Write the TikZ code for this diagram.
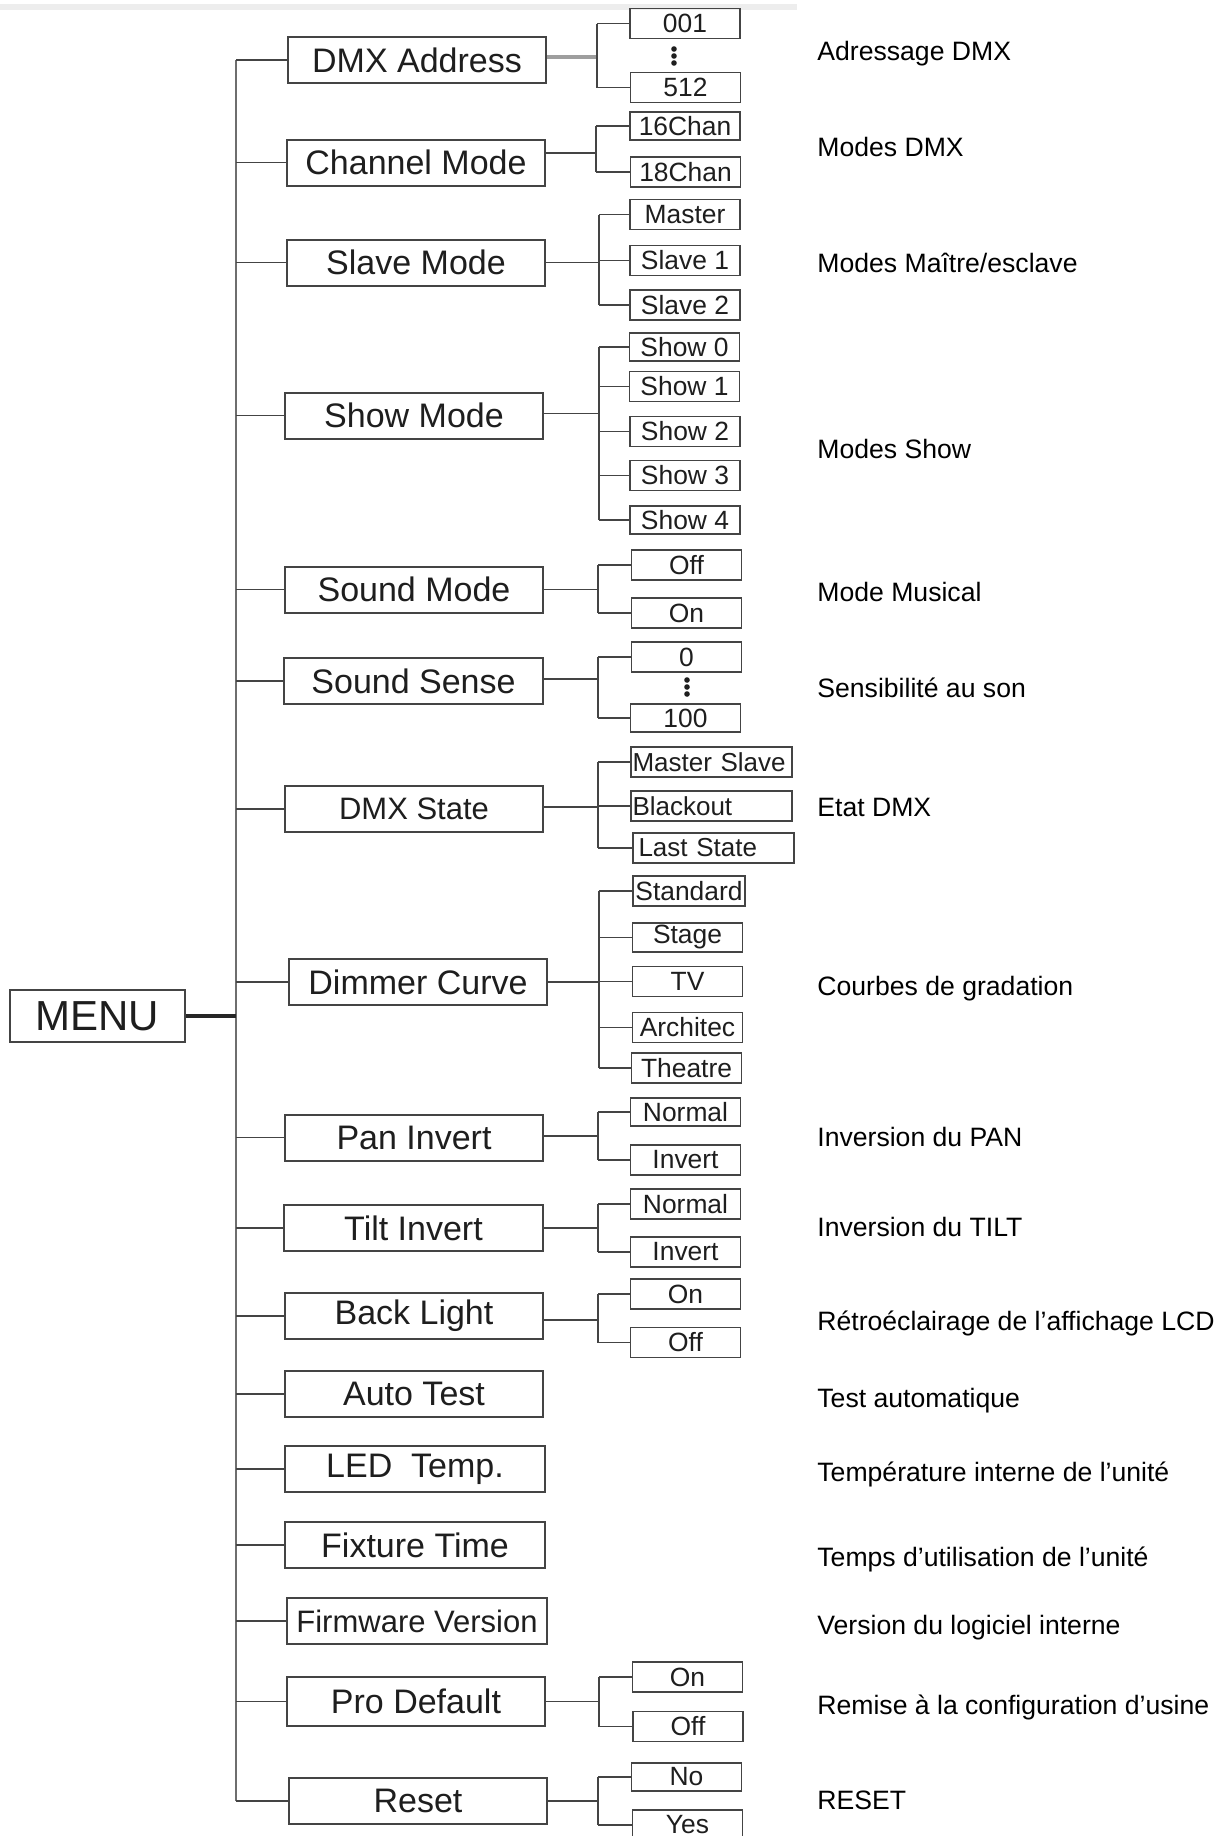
\documentclass[tikz,border=0pt]{standalone}
\usepackage{fontspec}
\setmainfont{Liberation Sans}
\definecolor{ln}{HTML}{444444}
\definecolor{tx}{HTML}{1E1E1E}
\definecolor{tk}{HTML}{6E6E6E}
\begin{document}
\begin{tikzpicture}[x=0.5pt,y=-0.5pt,
  mainbox/.style={draw=ln, line width=1pt, minimum width=129pt, minimum height=23pt, inner sep=0pt, text=tx, font=\fontsize{17}{20}\selectfont},
  subbox/.style={draw=ln, line width=0.9pt, minimum width=55pt, minimum height=15pt, inner sep=0pt, text=tx, font=\fontsize{13.2}{15}\selectfont},
  leftbox/.style={subbox, align=left, text width=79pt, inner xsep=0.75pt, font=\fontsize{13}{15}\selectfont},
  wire/.style={draw=ln, line width=0.9pt},
  trunkline/.style={draw=tk, line width=1pt},
  note/.style={anchor=base west, inner sep=0pt, text=black, font=\fontsize{13.3}{16}\selectfont},
  vdot/.style={circle, fill=tx, inner sep=0pt, minimum size=2.8pt}
]
\useasboundingbox (0,0) rectangle (1226,1836);
\fill[white] (0,0) rectangle (1226,1836);
\fill[black!7] (0,4) rectangle (797,10);

% MENU
\node[draw=ln, line width=1pt, minimum width=87.5pt, minimum height=26pt, inner sep=0pt, text=tx, font=\fontsize{21}{24}\selectfont] (menu) at (97.5,1016) {MENU};
\coordinate (tk) at (236,0);

% main boxes
\node[mainbox] (dmx) at (417,60) {DMX Address};
\node[mainbox] (chan) at (416,162.5) {Channel Mode};
\node[mainbox] (slave) at (416,262.5) {Slave Mode};
\node[mainbox] (show) at (414,415.5) {Show Mode};
\node[mainbox] (sound) at (414,589.5) {Sound Mode};
\node[mainbox, minimum width=129.5pt] (sense) at (413.5,681) {Sound Sense};
\node[mainbox, font=\fontsize{15.5}{18}\selectfont] (state) at (414,809) {DMX State};
\node[mainbox] (dim) at (418,982) {Dimmer Curve};
\node[mainbox] (pan) at (414,1137.5) {Pan Invert};
\node[mainbox, minimum width=129.5pt] (tilt) at (413.5,1228) {Tilt Invert};
\node[mainbox] (back) at (414,1316) {Back Light};
\node[mainbox] (auto) at (414,1394) {Auto Test};
\node[mainbox, minimum width=130pt] (led) at (415,1469) {LED~~Temp.};
\node[mainbox, minimum width=130pt] (fix) at (415,1545) {Fixture Time};
\node[mainbox, minimum width=130pt, font=\fontsize{15.5}{18}\selectfont] (firm) at (417,1621) {Firmware Version};
\node[mainbox, minimum height=24.5pt] (pro) at (416,1701.5) {Pro Default};
\node[mainbox] (reset) at (418,1801) {Reset};

% trunk and branches
\draw[trunkline] (dmx.west -| tk) -- (reset.west -| tk);
\foreach \m in {dmx,chan,slave,show,sound,sense,state,dim,pan,tilt,back,auto,led,fix,firm,pro,reset}
  \draw[wire] (\m.west) -- (\m.west -| tk);
\draw[line width=2pt, black!85] (menu.east) -- (menu.east -| tk);

% DMX Address
\node[subbox] (d001) at (685,23.5) {001};
\node[subbox] (d512) at (685.5,87.5) {512};
\node[vdot] (dda) at (674,49) {};
\node[vdot] (ddb) at (674,56) {};
\node[vdot] (ddc) at (674,63) {};
\coordinate (vA) at (597,0);
\draw[line width=1.6pt, black!38] ([yshift=1.5pt]dmx.east) -- ([yshift=1.5pt]dmx.east -| vA);
\draw[wire] (d001.west -| vA) -- (d512.west -| vA);
\foreach \s in {d001,d512} \draw[wire] (\s.west) -- (\s.west -| vA);

% Channel Mode
\node[subbox, minimum height=14pt] (c16) at (685,126) {16Chan};
\node[subbox] (c18) at (685.5,172) {18Chan};
\coordinate (vB) at (596,0);
\draw[wire] ([yshift=4.75pt]chan.east) -- ([yshift=4.75pt]chan.east -| vB);
\draw[wire] (c16.west -| vB) -- (c18.west -| vB);
\foreach \s in {c16,c18} \draw[wire] (\s.west) -- (\s.west -| vB);

% Slave Mode
\node[subbox] (smA) at (685,214.5) {Master};
\node[subbox] (smB) at (685,260.5) {Slave 1};
\node[subbox] (smC) at (685,305) {Slave 2};
\coordinate (vC) at (599,0);
\draw[wire] (slave.east) -- (slave.east -| vC);
\draw[wire] (smA.west -| vC) -- (smC.west -| vC);
\foreach \s in {smA,smB,smC} \draw[wire] (\s.west) -- (\s.west -| vC);

% Show Mode
\node[subbox, minimum height=14pt] (sh0) at (684.5,347) {Show 0};
\node[subbox] (sh1) at (684.5,386.5) {Show 1};
\node[subbox] (sh2) at (685,431.5) {Show 2};
\node[subbox] (sh3) at (685,475.5) {Show 3};
\node[subbox, minimum height=14pt] (sh4) at (685,520) {Show 4};
\coordinate (vD) at (599,0);
\draw[wire] ([yshift=1pt]show.east) -- ([yshift=1pt]show.east -| vD);
\draw[wire] (sh0.west -| vD) -- (sh4.west -| vD);
\foreach \s in {sh0,sh1,sh2,sh3,sh4} \draw[wire] (\s.west) -- (\s.west -| vD);

% Sound Mode
\node[subbox] (soOff) at (686.5,565) {Off};
\node[subbox] (soOn) at (686.5,613) {On};
\coordinate (vE) at (598,0);
\draw[wire] (sound.east) -- (sound.east -| vE);
\draw[wire] (soOff.west -| vE) -- (soOn.west -| vE);
\foreach \s in {soOff,soOn} \draw[wire] (\s.west) -- (\s.west -| vE);

% Sound Sense
\node[subbox] (se0) at (686.5,657) {0};
\node[subbox, minimum height=14pt] (se100) at (685.5,718) {100};
\node[vdot] (sda) at (687,680) {};
\node[vdot] (sdb) at (687,687) {};
\node[vdot] (sdc) at (687,694) {};
\coordinate (vF) at (598,0);
\draw[wire] ([yshift=1pt]sense.east) -- ([yshift=1pt]sense.east -| vF);
\draw[wire] (se0.west -| vF) -- (se100.west -| vF);
\foreach \s in {se0,se100} \draw[wire] (\s.west) -- (\s.west -| vF);

% DMX State
\node[leftbox] (stA) at (711.5,762) {Master Slave};
\node[leftbox] (stB) at (711.5,806) {Blackout};
\node[leftbox] (stC) at (713.5,848) {\hspace{2pt}Last State};
\coordinate (vG) at (598,0);
\draw[wire] ([yshift=1pt]state.east) -- ([yshift=1pt]state.east -| vG);
\draw[wire] (stA.west -| vG) -- (stC.west -| vG);
\foreach \s in {stA,stB,stC} \draw[wire] (\s.west) -- (\s.west -| vG);

% Dimmer Curve
\node[subbox, minimum width=56pt] (dcA) at (689,891) {Standard};
\node[subbox, minimum height=14.5pt] (dcB) at (687.5,937.5) {Stage};
\node[subbox] (dcC) at (687.5,981.5) {TV};
\node[subbox] (dcD) at (687.5,1027.5) {Architec};
\node[subbox] (dcE) at (686.5,1068) {Theatre};
\coordinate (vH) at (599,0);
\draw[wire] (dim.east) -- (dim.east -| vH);
\draw[wire] (dcA.west -| vH) -- (dcE.west -| vH);
\foreach \s in {dcA,dcB,dcC,dcD,dcE} \draw[wire] (\s.west) -- (\s.west -| vH);

% Pan Invert
\node[subbox, minimum height=14pt] (paA) at (685.5,1112) {Normal};
\node[subbox] (paB) at (685.5,1160) {Invert};
\coordinate (vI) at (598,0);
\draw[wire] ([yshift=0.75pt]pan.east) -- ([yshift=0.75pt]pan.east -| vI);
\draw[wire] (paA.west -| vI) -- (paB.west -| vI);
\foreach \s in {paA,paB} \draw[wire] (\s.west) -- (\s.west -| vI);

% Tilt Invert
\node[subbox] (tiA) at (685.5,1204) {Normal};
\node[subbox] (tiB) at (685.5,1252) {Invert};
\coordinate (vJ) at (598,0);
\draw[wire] (tilt.east) -- (tilt.east -| vJ);
\draw[wire] (tiA.west -| vJ) -- (tiB.west -| vJ);
\foreach \s in {tiA,tiB} \draw[wire] (\s.west) -- (\s.west -| vJ);

% Back Light
\node[subbox] (blA) at (685.5,1294) {On};
\node[subbox] (blB) at (685.5,1342.5) {Off};
\coordinate (vK) at (598,0);
\draw[wire] ([yshift=-2pt]back.east) -- ([yshift=-2pt]back.east -| vK);
\draw[wire] (blA.west -| vK) -- (blB.west -| vK);
\foreach \s in {blA,blB} \draw[wire] (\s.west) -- (\s.west -| vK);

% Pro Default
\node[subbox] (pdA) at (687.5,1677) {On};
\node[subbox] (pdB) at (688,1726.5) {Off};
\coordinate (vL) at (599,0);
\draw[wire] (pro.east) -- (pro.east -| vL);
\draw[wire] (pdA.west -| vL) -- (pdB.west -| vL);
\foreach \s in {pdA,pdB} \draw[wire] (\s.west) -- (\s.west -| vL);

% Reset
\node[subbox, minimum height=14pt] (rsA) at (686.5,1777) {No};
\node[subbox] (rsB) at (687.5,1825) {Yes};
\coordinate (vM) at (598,0);
\draw[wire] (reset.east) -- (reset.east -| vM);
\draw[wire] (rsA.west -| vM) -- (rsB.west -| vM);
\foreach \s in {rsA,rsB} \draw[wire] (\s.west) -- (\s.west -| vM);

% right-hand descriptions
\node[note] (nA) at (817,61) {Adressage DMX};
\node[note] (nB) at (817,156) {Modes DMX};
\node[note] (nC) at (817,272) {Modes Maître/esclave};
\node[note] (nD) at (817,458) {Modes Show};
\node[note] (nE) at (817,601) {Mode Musical};
\node[note] (nF) at (817,697) {Sensibilité au son};
\node[note] (nG) at (817,816) {Etat DMX};
\node[note] (nH) at (817,995.5) {Courbes de gradation};
\node[note] (nI) at (817,1146.5) {Inversion du PAN};
\node[note] (nJ) at (817,1236.5) {Inversion du TILT};
\node[note] (nK) at (817,1330.5) {Rétroéclairage de l’affichage LCD};
\node[note] (nL) at (817,1407.5) {Test automatique};
\node[note] (nM) at (817,1481.5) {Température interne de l’unité};
\node[note] (nN) at (817,1566.5) {Temps d’utilisation de l’unité};
\node[note] (nO) at (817,1634.5) {Version du logiciel interne};
\node[note] (nP) at (817,1714.5) {Remise à la configuration d’usine};
\node[note] (nQ) at (817,1809.5) {RESET};
\end{tikzpicture}
\end{document}
